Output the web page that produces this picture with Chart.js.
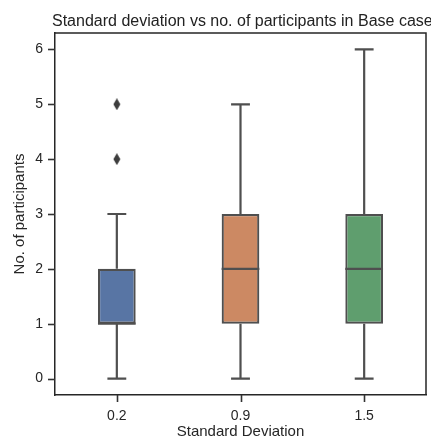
<!DOCTYPE html>
<html lang="en">
<head>
<meta charset="UTF-8">
<title>Standard deviation vs no. of participants</title>
<script src="https://cdn.jsdelivr.net/npm/chart.js@4.4.0/dist/chart.umd.min.js"></script>
<style>
  body { margin: 0; background: #fff; }
</style>
</head>
<body>
<canvas id="chart" width="431" height="441"></canvas>
<script>
// box plot summary per standard deviation group
const sdLabels = ['0.2', '0.9', '1.5'];
const q1 = [1, 1, 1];
const q3 = [2, 3, 3];
const medians = [1, 2, 2];
const whiskerLow = [0, 0, 0];
const whiskerHigh = [3, 5, 6];
const outliers = [[4, 5], [], []];
const yTicks = [0, 1, 2, 3, 4, 5, 6];

const boxColors = ['#5875a4', '#cc8963', '#5f9e6e'];
const lineGray = '#4f4f4f';
const axisColor = '#262626';
const titleText = 'Standard deviation vs no. of participants in Base case';

Chart.defaults.font.family = '"Liberation Sans", Arial, sans-serif';

// thin diamond marker for fliers
function diamond() {
  const c = document.createElement('canvas');
  c.width = 8; c.height = 12;
  const g = c.getContext('2d');
  g.fillStyle = '#3d3d3d';
  g.beginPath();
  g.moveTo(4, 0); g.lineTo(7.5, 6); g.lineTo(4, 12); g.lineTo(0.5, 6);
  g.closePath();
  g.fill();
  return c;
}

const flierPoints = [];
outliers.forEach((vals, i) => vals.forEach(v => flierPoints.push({ x: sdLabels[i], y: v })));

// whiskers, caps, medians, spines, tick marks and the title
const boxLines = {
  id: 'boxLines',
  beforeDatasetsDraw(chart) {
    const ctx = chart.ctx;
    const ys = chart.scales.y;
    const bars = chart.getDatasetMeta(0).data;
    ctx.save();
    ctx.strokeStyle = lineGray;
    ctx.lineWidth = 2.2;
    bars.forEach((bar, i) => {
      const cap = bar.width / 4;
      const segs = [[q3[i], whiskerHigh[i]], [q1[i], whiskerLow[i]]];
      segs.forEach(([from, to]) => {
        const y0 = ys.getPixelForValue(from);
        const y1 = ys.getPixelForValue(to);
        ctx.beginPath();
        ctx.moveTo(bar.x, y0);
        ctx.lineTo(bar.x, y1);
        ctx.moveTo(bar.x - cap, y1);
        ctx.lineTo(bar.x + cap, y1);
        ctx.stroke();
      });
    });
    ctx.restore();
  },
  afterDatasetsDraw(chart) {
    const ctx = chart.ctx;
    const ys = chart.scales.y;
    const bars = chart.getDatasetMeta(0).data;
    ctx.save();
    ctx.strokeStyle = lineGray;
    ctx.lineWidth = 2.2;
    bars.forEach((bar, i) => {
      const y = ys.getPixelForValue(medians[i]);
      ctx.beginPath();
      ctx.moveTo(bar.x - bar.width / 2, y);
      ctx.lineTo(bar.x + bar.width / 2, y);
      ctx.stroke();
    });
    ctx.restore();
  },
  afterDraw(chart) {
    const ctx = chart.ctx;
    const a = chart.chartArea;
    const xs = chart.scales.x;
    const ys = chart.scales.y;
    ctx.save();
    ctx.strokeStyle = axisColor;
    ctx.lineWidth = 1.5;
    ctx.beginPath();
    ctx.moveTo(a.left, a.top);
    ctx.lineTo(a.right, a.top);
    ctx.lineTo(a.right, a.bottom);
    ctx.stroke();

    // outward tick marks at each category and each y tick
    ctx.strokeStyle = '#333';
    ctx.lineWidth = 1.6;
    for (let i = 0; i < xs.ticks.length; i++) {
      const x = Math.round(xs.getPixelForTick(i)) + 0.5;
      ctx.beginPath();
      ctx.moveTo(x, a.bottom);
      ctx.lineTo(x, a.bottom + 7);
      ctx.stroke();
    }
    for (let i = 0; i < ys.ticks.length; i++) {
      const y = Math.round(ys.getPixelForTick(i)) + 0.5;
      ctx.beginPath();
      ctx.moveTo(a.left - 7, y);
      ctx.lineTo(a.left, y);
      ctx.stroke();
    }

    ctx.font = '16px "Liberation Sans", Arial, sans-serif';
    ctx.fillStyle = '#222';
    ctx.textBaseline = 'alphabetic';
    ctx.fillText(titleText, a.left - 3, 26);
    ctx.restore();
  }
};

const hiddenGrid = {
  display: true,
  drawOnChartArea: false,
  drawTicks: true,
  tickLength: 6,
  color: 'rgba(0,0,0,0)'
};

new Chart(document.getElementById('chart'), {
  type: 'bar',
  data: {
    labels: sdLabels,
    datasets: [{
      data: q1.map((v, i) => [v, q3[i]]),
      backgroundColor: boxColors,
      borderColor: lineGray,
      borderWidth: 2.2,
      borderSkipped: false,
      barPercentage: 0.305,
      categoryPercentage: 1,
      order: 2
    }, {
      type: 'scatter',
      data: flierPoints,
      pointStyle: diamond(),
      order: 1
    }]
  },
  options: {
    responsive: false,
    animation: false,
    layout: { padding: { top: 33, right: 2, left: 0, bottom: 0 } },
    plugins: {
      legend: { display: false },
      tooltip: { enabled: false }
    },
    scales: {
      x: {
        type: 'category',
        offset: true,
        grid: hiddenGrid,
        border: { display: true, color: axisColor, width: 1.5 },
        ticks: { color: axisColor, font: { size: 14 }, padding: 7 },
        title: {
          display: true,
          text: 'Standard Deviation',
          color: axisColor,
          font: { size: 15 },
          padding: 0
        },
        afterFit(s) { s.height = 46; }
      },
      y: {
        min: -0.3,
        max: 6.3,
        afterBuildTicks(s) { s.ticks = yTicks.map(v => ({ value: v })); },
        grid: hiddenGrid,
        border: { display: true, color: axisColor, width: 1.5 },
        ticks: { color: axisColor, font: { size: 14 }, padding: 6 },
        title: {
          display: true,
          text: 'No. of participants',
          color: axisColor,
          font: { size: 15 },
          padding: { top: 11, bottom: 0 }
        },
        afterFit(s) { s.width = 55; }
      }
    }
  },
  plugins: [boxLines]
});
</script>
</body>
</html>
